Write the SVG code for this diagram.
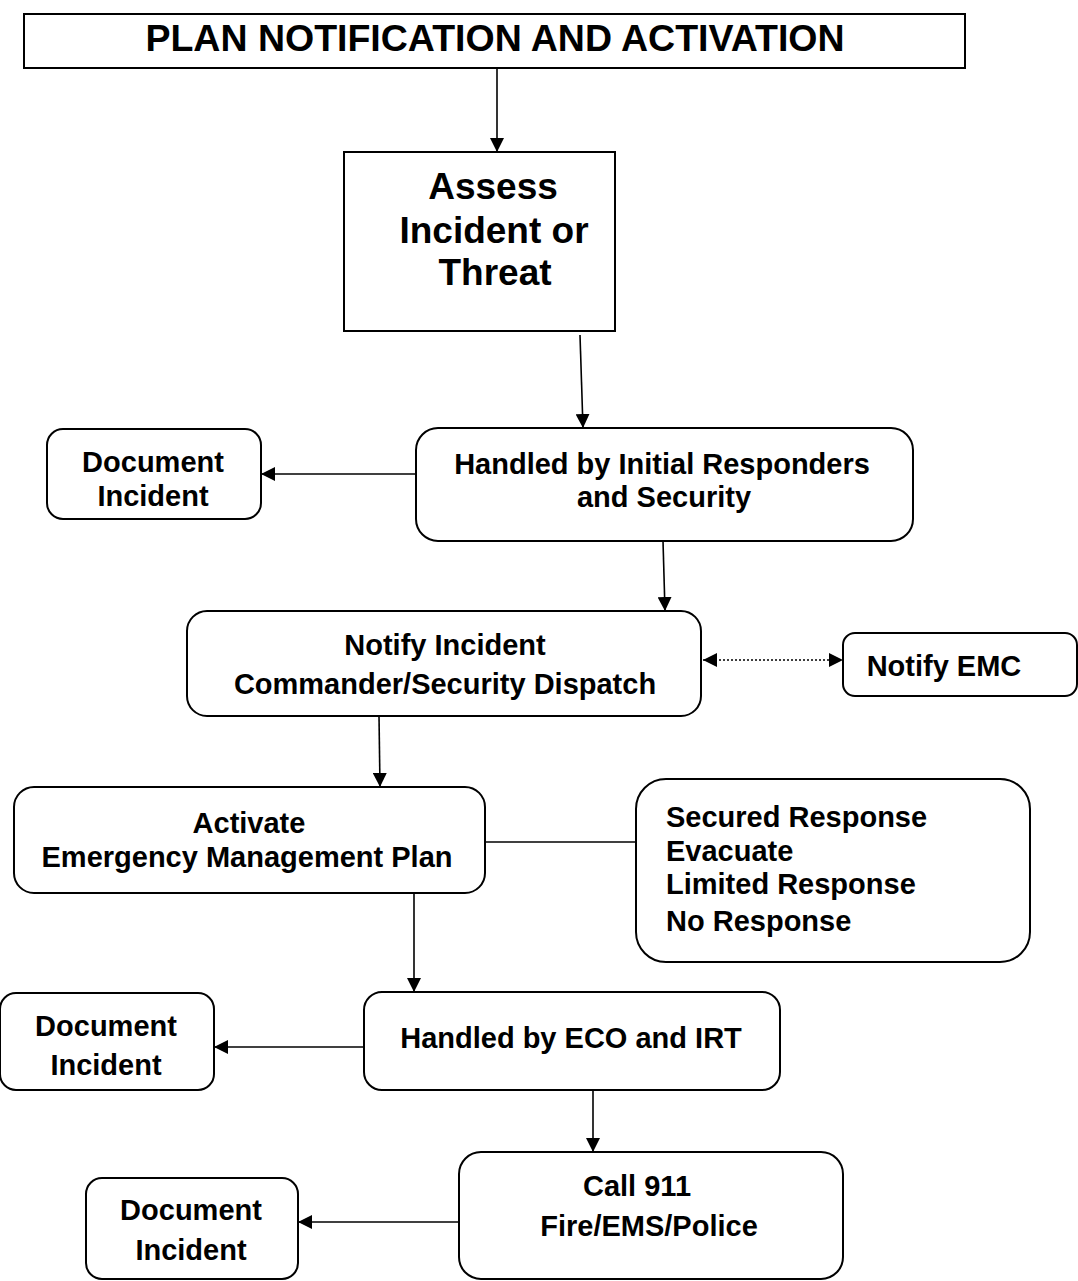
<svg xmlns="http://www.w3.org/2000/svg" width="1078" height="1281" viewBox="0 0 1078 1281">
<style>
.box{fill:#fff;stroke:#000;stroke-width:2}
.t{font-family:"Liberation Sans",Arial,sans-serif;font-weight:bold;font-size:29px;fill:#000;text-anchor:middle}
.big{font-size:37px}
.l{text-anchor:start}
.c{stroke:#000;stroke-width:1.6;fill:none}
</style>
<defs>
<marker id="ah2" viewBox="0 0 10 10" refX="10" refY="5" markerWidth="14" markerHeight="14" orient="auto-start-reverse" markerUnits="userSpaceOnUse"><path d="M0,0 L10,5 L0,10 z" fill="#000"/></marker>
</defs>
<rect width="1078" height="1281" fill="#fff"/>
<g id="connectors">
<line class="c" x1="497" y1="68" x2="497" y2="152" marker-end="url(#ah2)"/>
<line class="c" x1="580" y1="335" x2="583" y2="428" marker-end="url(#ah2)"/>
<line class="c" x1="416" y1="474" x2="261" y2="474" marker-end="url(#ah2)"/>
<line class="c" x1="663" y1="541" x2="665" y2="611" marker-end="url(#ah2)"/>
<line class="c" x1="703" y1="660" x2="843" y2="660" stroke-dasharray="2,2" marker-start="url(#ah2)" marker-end="url(#ah2)"/>
<line class="c" x1="379" y1="716" x2="380" y2="787" marker-end="url(#ah2)"/>
<line class="c" x1="485" y1="842" x2="636" y2="842"/>
<line class="c" x1="414" y1="893" x2="414" y2="992" marker-end="url(#ah2)"/>
<line class="c" x1="364" y1="1047" x2="214" y2="1047" marker-end="url(#ah2)"/>
<line class="c" x1="593" y1="1091" x2="593" y2="1152" marker-end="url(#ah2)"/>
<line class="c" x1="459" y1="1222" x2="298" y2="1222" marker-end="url(#ah2)"/>
</g>
<g id="title">
<rect class="box" x="24" y="14" width="941" height="54"/>
<text class="t" x="495" y="51" style="font-size:37.5px">PLAN NOTIFICATION AND ACTIVATION</text>
</g>
<g id="assess">
<rect class="box" x="344" y="152" width="271" height="179"/>
<text class="t big" x="493" y="199">Assess</text>
<text class="t big" x="494" y="243">Incident or</text>
<text class="t big" x="495" y="285">Threat</text>
</g>
<g id="handled-initial">
<rect class="box" x="416" y="428" width="497" height="113" rx="22"/>
<text class="t" x="662" y="474">Handled by Initial Responders</text>
<text class="t" x="664" y="507">and Security</text>
</g>
<g id="doc1">
<rect class="box" x="47" y="429" width="214" height="90" rx="16"/>
<text class="t" x="153" y="472">Document</text>
<text class="t" x="153" y="506">Incident</text>
</g>
<g id="notify-ic">
<rect class="box" x="187" y="611" width="514" height="105" rx="20"/>
<text class="t" x="445" y="655">Notify Incident</text>
<text class="t" x="445" y="694">Commander/Security Dispatch</text>
</g>
<g id="notify-emc">
<rect class="box" x="843" y="633" width="234" height="63" rx="12"/>
<text class="t" x="944" y="676">Notify EMC</text>
</g>
<g id="activate">
<rect class="box" x="14" y="787" width="471" height="106" rx="20"/>
<text class="t" x="249" y="833">Activate</text>
<text class="t" x="247" y="867">Emergency Management Plan</text>
</g>
<g id="options">
<rect class="box" x="636" y="779" width="394" height="183" rx="30"/>
<text class="t l" x="666" y="827">Secured Response</text>
<text class="t l" x="666" y="861">Evacuate</text>
<text class="t l" x="666" y="894">Limited Response</text>
<text class="t l" x="666" y="931">No Response</text>
</g>
<g id="handled-eco">
<rect class="box" x="364" y="992" width="416" height="98" rx="18"/>
<text class="t" x="571" y="1048">Handled by ECO and IRT</text>
</g>
<g id="doc2">
<rect class="box" x="0" y="993" width="214" height="97" rx="16"/>
<text class="t" x="106" y="1036">Document</text>
<text class="t" x="106" y="1075">Incident</text>
</g>
<g id="call911">
<rect class="box" x="459" y="1152" width="384" height="127" rx="22"/>
<text class="t" x="637" y="1196">Call 911</text>
<text class="t" x="649" y="1236">Fire/EMS/Police</text>
</g>
<g id="doc3">
<rect class="box" x="86" y="1178" width="212" height="101" rx="16"/>
<text class="t" x="191" y="1220">Document</text>
<text class="t" x="191" y="1260">Incident</text>
</g>
</svg>
